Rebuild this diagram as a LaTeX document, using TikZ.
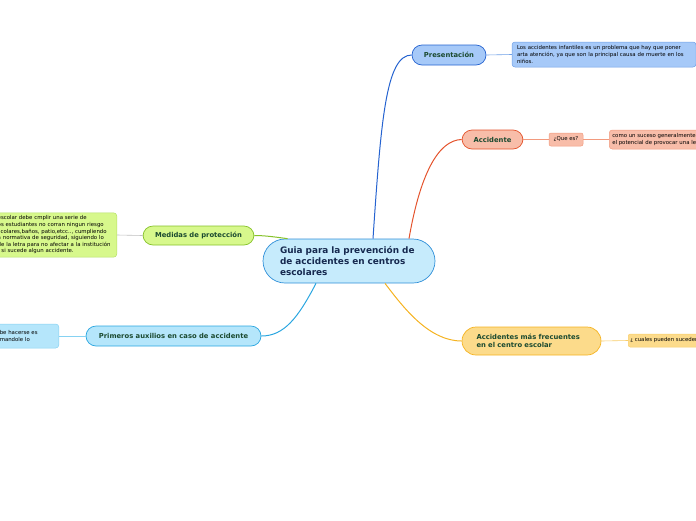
\documentclass[tikz,border=0pt]{standalone}
\usepackage{fontspec}
\setmainfont{DejaVu Sans}
\usepackage{xcolor}
\usetikzlibrary{positioning,calc}

\definecolor{mainfill}{HTML}{C6EBFC}
\definecolor{maindraw}{HTML}{2F8FD8}
\definecolor{maintext}{HTML}{16294F}
\definecolor{labtext}{HTML}{1B4A30}
\definecolor{presfill}{HTML}{A6C9F8}
\definecolor{presdraw}{HTML}{2563D0}
\definecolor{presleaf}{HTML}{6E9FE6}
\definecolor{accfill}{HTML}{F8BDA9}
\definecolor{accdraw}{HTML}{E4532C}
\definecolor{accleaf}{HTML}{F29A7E}
\definecolor{medfill}{HTML}{D7F88C}
\definecolor{meddraw}{HTML}{86C22A}
\definecolor{medleaf}{HTML}{B5E067}
\definecolor{auxfill}{HTML}{B5E6FB}
\definecolor{auxdraw}{HTML}{2AA6E0}
\definecolor{auxleaf}{HTML}{86D2F2}
\definecolor{frefill}{HTML}{FCDB8B}
\definecolor{fredraw}{HTML}{F5B321}
\definecolor{freleaf}{HTML}{F8CD6A}

\begin{document}
\begin{tikzpicture}[x=1pt, y=-1pt]
    \tikzset{
      topic/.style={draw, line width=0.7pt, rounded corners=10pt, inner sep=2pt,
        font=\fontsize{6.8}{8}\selectfont\bfseries, text=labtext},
      leaf/.style={draw, line width=0.5pt, rounded corners=3pt, inner sep=3pt,
        align=left, font=\fontsize{5.4}{6.6}\selectfont, text=black},
      twig/.style={line width=0.6pt},
      bough/.style={line width=1pt},
    }
    \clip (0,0) rectangle (696,520);
    \useasboundingbox (0,0) rectangle (696,520);

    % central idea
    \node[draw=maindraw, fill=mainfill, line width=0.7pt, rounded corners=22pt,
      minimum width=172pt, minimum height=44pt, text width=138pt, align=left,
      font=\fontsize{8.9}{10.9}\selectfont\bfseries, text=maintext]
      (main) at (349,261) {Guia para la prevención de\\de accidentes en centros\\escolares};

    % topics
    \node[topic, draw=presdraw, fill=presfill, minimum width=74pt, minimum height=20pt]
      (pres) at (449,55) {Presentación};
    \node[topic, draw=accdraw, fill=accfill, minimum width=61pt, minimum height=19pt]
      (acc) at (492.5,139.5) {Accidente};
    \node[topic, draw=meddraw, fill=medfill, minimum width=111pt, minimum height=19pt]
      (med) at (198.5,235.5) {Medidas de protección};
    \node[topic, draw=auxdraw, fill=auxfill, minimum width=175pt, minimum height=20pt]
      (aux) at (173.5,336) {Primeros auxilios en caso de accidente};
    \node[topic, draw=fredraw, fill=frefill, minimum width=139pt, minimum height=28pt,
      rounded corners=14pt, text width=110pt, align=left, font=\fontsize{6.8}{8.6}\selectfont\bfseries]
      (fre) at (531.5,341) {Accidentes más frecuentes\\en el centro escolar};

    % leaves
    \node[leaf, draw=presleaf, fill=presfill, minimum width=184pt, minimum height=25pt,
      text width=174pt] (presA) at (604,54.5)
      {Los accidentes infantiles es un problema que hay que poner\\arta atención, ya que son la principal causa de muerte en los\\niños.};
    \node[leaf, draw=accleaf, fill=accfill, rounded corners=2pt, minimum width=34pt,
      minimum height=13pt, align=center, inner sep=1pt] (que) at (566,139.5) {¿Que es?};
    \node[leaf, draw=accleaf, fill=accfill, anchor=west, minimum height=19pt]
      (queA) at (609,139.5) {como un suceso generalmente\\el potencial de provocar una lesión};
    \node[leaf, draw=medleaf, fill=medfill, anchor=east, minimum height=44pt, text width=116pt]
      (medA) at (117,235) {escolar debe cmplir una serie de\\os estudiantes no corran ningun riesgo\\scolares,baños, patio,etcc.., cumpliendo\\a normativa de seguridad, siguiendo lo\\de la letra para no afectar a la institución\\- si sucede algun accidente.};
    \node[leaf, draw=auxleaf, fill=auxfill, anchor=east, minimum height=24pt, text width=56pt]
      (auxA) at (59,336) {be hacerse es\\mandole lo};
    \node[leaf, draw=freleaf, fill=frefill, rounded corners=2pt, anchor=west,
      minimum height=13pt, inner sep=2pt] (freA) at (628,340.5) {¿ cuales pueden suceder?};

    % main branches
    \draw[bough, presdraw] ([xshift=24pt]main.north) .. controls (381,120) and (386,55) .. (pres.west);
    \draw[bough, accdraw] ([xshift=60pt]main.north) .. controls (420,175) and (438,140) .. (acc.west);
    \draw[bough, meddraw] (main.160) .. controls (275,237) and (265,235.5) .. (med.east);
    \draw[bough, auxdraw] ([xshift=-33pt]main.south) .. controls (298,318) and (284,336) .. (aux.east);
    \draw[bough, fredraw] ([xshift=36pt]main.south) .. controls (405,310) and (430,341) .. (fre.west);

    % leaf twigs
    \draw[twig, presleaf] (pres.east) -- (presA.west);
    \draw[twig, accleaf] (acc.east) -- (que.west);
    \draw[twig, accleaf] (que.east) -- (queA.west);
    \draw[twig, black!25] (med.west) -- (medA.east);
    \draw[twig, auxleaf] (aux.west) -- (auxA.east);
    \draw[twig, freleaf] (fre.east) -- (freA.west);
  \end{tikzpicture}
\end{document}
